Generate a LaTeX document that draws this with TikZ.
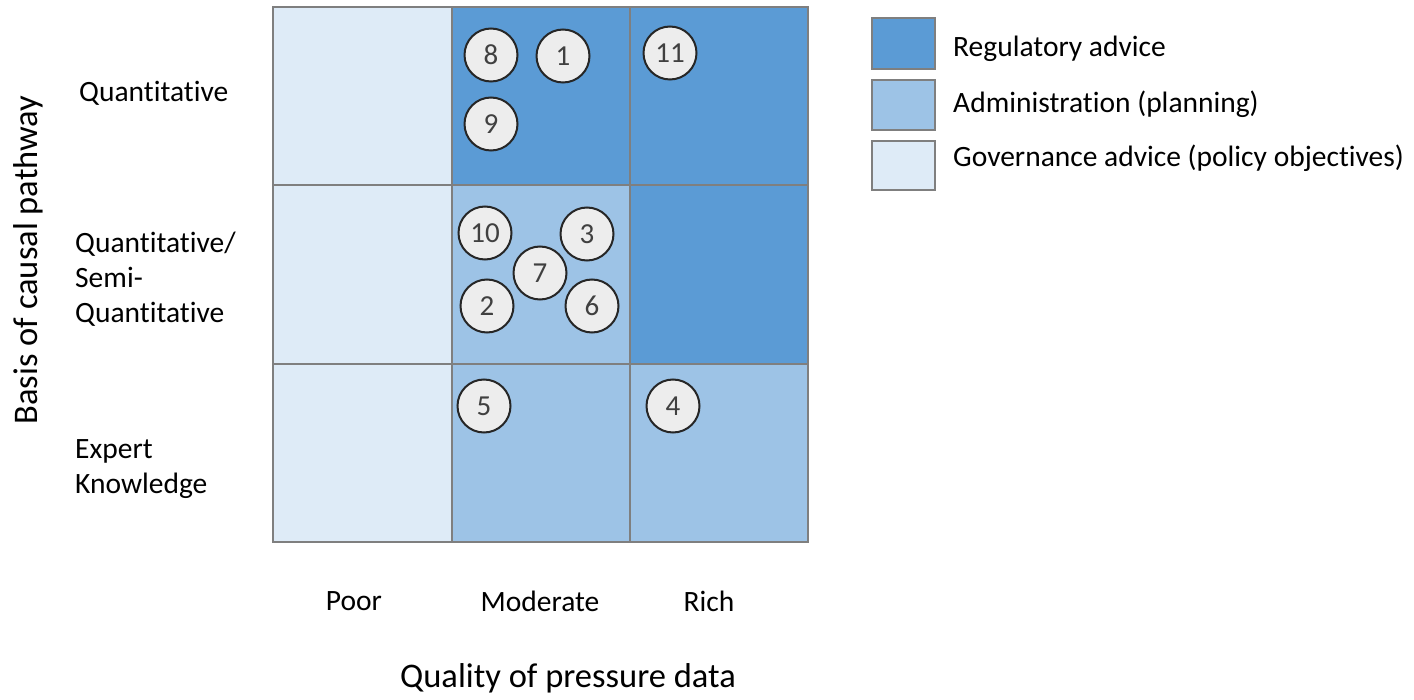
\documentclass[tikz,border=0pt]{standalone}
\usepackage{fontspec}
\setmainfont{Carlito}[Ligatures=NoCommon]
\definecolor{dark}{HTML}{5B9BD5}
\definecolor{mid}{HTML}{9DC3E6}
\definecolor{light}{HTML}{DEEBF7}
\definecolor{gridline}{HTML}{7F7F7F}
\definecolor{circfill}{HTML}{EDEDED}
\definecolor{circline}{HTML}{262626}
\definecolor{numcol}{HTML}{404040}
\begin{document}
\begin{tikzpicture}[x=1pt,y=-1pt,
  cell/.style={draw=gridline,line width=2pt},
  study/.style={circle,draw=circline,fill=circfill,line width=2pt,minimum size=53pt,inner sep=0pt,text=numcol,font=\fontsize{29}{32}\selectfont},
  lab/.style={font=\fontsize{29.5}{35}\selectfont,align=left,inner sep=0pt},
  axis/.style={font=\fontsize{34.5}{40}\selectfont,inner sep=0pt}]
\useasboundingbox (0,0) rectangle (1414,700);
% grid cells
\path[cell,fill=light] (273,7) rectangle (452,185);
\path[cell,fill=light] (273,185) rectangle (452,364);
\path[cell,fill=light] (273,364) rectangle (452,542);
\path[cell,fill=dark] (452,7) rectangle (630,185);
\path[cell,fill=mid] (452,185) rectangle (630,364);
\path[cell,fill=mid] (452,364) rectangle (630,542);
\path[cell,fill=dark] (630,7) rectangle (808,185);
\path[cell,fill=dark] (630,185) rectangle (808,364);
\path[cell,fill=mid] (630,364) rectangle (808,542);
% study circles
\node[study] (s8) at (491,55) {8};
\node[study] (s1) at (563,56) {1};
\node[study] (s11) at (670,53) {11};
\node[study] (s9) at (491,124) {9};
\node[study] (s10) at (485,233) {10};
\node[study] (s3) at (587,234) {3};
\node[study] (s7) at (540,273) {7};
\node[study] (s2) at (487,306) {2};
\node[study] (s6) at (592,306) {6};
\node[study] (s5) at (484,406) {5};
\node[study] (s4) at (673,406) {4};
% row labels
\node[lab,anchor=west] (rq) at (79,93) {Quantitative};
\node[lab,anchor=west] (rs) at (75,279) {Quantitative/\\Semi-\\Quantitative};
\node[lab,anchor=west] (re) at (75,469) {Expert\\Knowledge};
% column labels
\node[lab] (cp) at (354,601) {Poor};
\node[lab] (cm) at (540,601) {Moderate};
\node[lab] (cr) at (709,601) {Rich};
% axis titles
\node[axis] (ax) at (568,678) {Quality of pressure data};
\node[axis,rotate=90] (ay) at (28,260) {Basis of causal pathway};
% legend
\path[cell,fill=dark] (872,18) rectangle (935,69);
\path[cell,fill=mid] (872,80) rectangle (935,130);
\path[cell,fill=light] (872,141) rectangle (935,190);
\node[lab,anchor=west] (l1) at (953,49) {Regulatory advice};
\node[lab,anchor=west] (l2) at (953,104) {Administration (planning)};
\node[lab,anchor=west] (l3) at (953,158) {Governance advice (policy objectives)};
\end{tikzpicture}
\end{document}
